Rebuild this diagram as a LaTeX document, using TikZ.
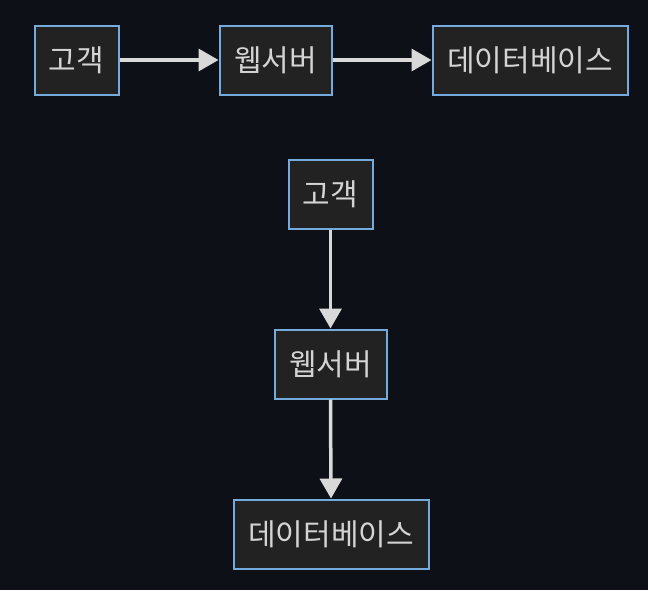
\documentclass[tikz,border=0pt]{standalone}
\usepackage{fontspec}
\newfontfamily\kr{Noto Sans CJK KR}
\usetikzlibrary{arrows.meta}
\definecolor{bg}{HTML}{0D1117}
\definecolor{boxfill}{HTML}{222222}
\definecolor{boxline}{HTML}{74AADC}
\definecolor{txt}{HTML}{D4D4D4}
\definecolor{edge}{HTML}{D9D9D9}
\tikzset{
  nodebox/.style={draw=boxline, line width=2pt, fill=boxfill, text=txt,
    font=\kr\fontsize{30}{36}\selectfont, inner sep=0pt, anchor=north west},
  flow/.style={draw=edge, line width=3.5pt, -{Triangle[length=20pt,width=22pt]}, shorten >=0pt}
}
\begin{document}
\begin{tikzpicture}[x=1pt,y=-1pt]
\fill[bg] (0,0) rectangle (648,590);
\useasboundingbox (0,0) rectangle (648,590);
% top row
\node[nodebox, minimum width=84pt, minimum height=69pt] (a1) at (33.5,24.5) {고객};
\node[nodebox, minimum width=112pt, minimum height=69pt] (b1) at (218.5,24.5) {웹서버};
\node[nodebox, minimum width=195pt, minimum height=69pt] (c1) at (431.5,24.5) {데이터베이스};
% vertical
\node[nodebox, minimum width=84pt, minimum height=69pt] (a2) at (287.5,158.5) {고객};
\node[nodebox, minimum width=112pt, minimum height=69pt] (b2) at (273.5,328.5) {웹서버};
\node[nodebox, minimum width=195pt, minimum height=69pt] (c2) at (232.5,498.5) {데이터베이스};
\draw[flow] (a1.east) -- (b1.west);
\draw[flow] (b1.east) -- (c1.west);
\draw[flow] (a2.south) -- (b2.north);
\draw[flow] (b2.south) -- (c2.north);
\end{tikzpicture}
\end{document}
